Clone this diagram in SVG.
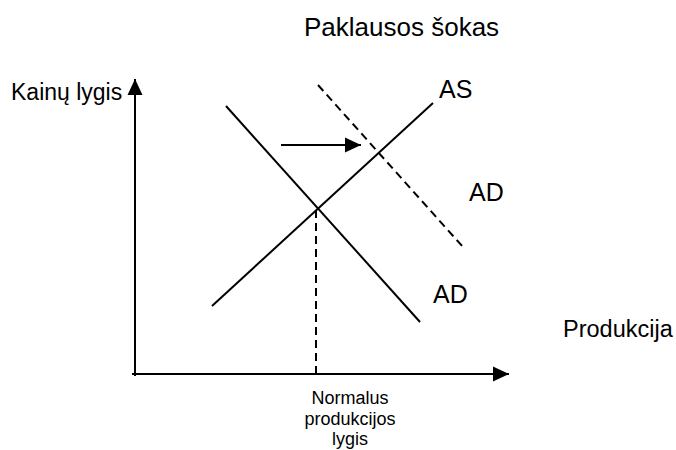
<svg xmlns="http://www.w3.org/2000/svg" width="676" height="450" viewBox="0 0 676 450">
<style>
text{font-family:"Liberation Sans",Arial,sans-serif;fill:#000}
.l{font-size:25px}
.s{font-size:18px}
.ln{stroke:#000;stroke-width:2;fill:none}
.d{stroke-dasharray:8,5}
</style>
<defs>
<marker id="ah" markerWidth="16" markerHeight="16" refX="16" refY="8" orient="auto" markerUnits="userSpaceOnUse">
<path d="M0,0.5 L16,8 L0,15.5 Z" fill="#000"/>
</marker>
</defs>
<rect width="676" height="450" fill="#fff"/>
<g id="title"><text class="l" x="304" y="36" style="font-size:26px">Paklausos šokas</text></g>
<g id="axes">
<line class="ln" x1="135" y1="376" x2="135" y2="79" marker-end="url(#ah)"/>
<line class="ln" x1="132" y1="374" x2="509" y2="374" marker-end="url(#ah)"/>
</g>
<g id="connectors">
<line id="as" class="ln" x1="212" y1="306" x2="433" y2="103"/>
<line id="ad1" class="ln" x1="226" y1="106" x2="420" y2="322"/>
<line id="ad2" class="ln d" x1="318" y1="85" x2="463" y2="247"/>
<line id="vline" class="ln d" x1="316" y1="210" x2="316" y2="374"/>
<line id="shift" class="ln" x1="281" y1="145" x2="361" y2="145" marker-end="url(#ah)"/>
</g>
<g id="label-y"><text class="l" x="11" y="100" style="font-size:23px">Kainų lygis</text></g>
<g id="label-as"><text class="l" x="439" y="98">AS</text></g>
<g id="label-ad2"><text class="l" x="469" y="201">AD</text></g>
<g id="label-ad1"><text class="l" x="433" y="303">AD</text></g>
<g id="label-x"><text class="l" x="563" y="337" style="font-size:23.5px">Produkcija</text></g>
<g id="label-normal">
<text class="s" text-anchor="middle" x="350" y="404">Normalus</text>
<text class="s" text-anchor="middle" x="350" y="425">produkcijos</text>
<text class="s" text-anchor="middle" x="350" y="445">lygis</text>
</g>
</svg>
